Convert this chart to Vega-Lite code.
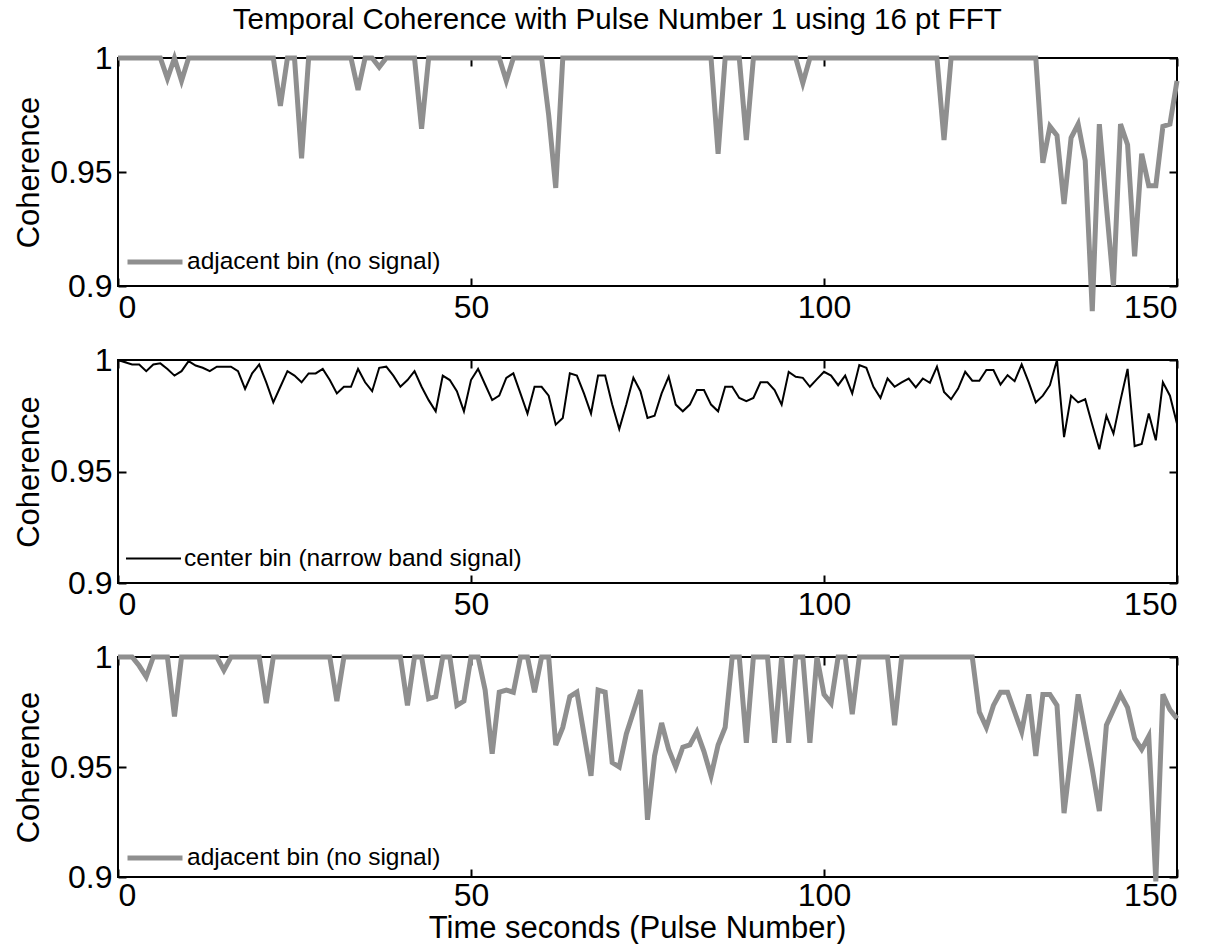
{
  "$schema": "https://vega.github.io/schema/vega-lite/v6.json",
  "background": "white",
  "padding": {"left": 12, "top": 4, "right": 5, "bottom": 0},
  "title": {"text": "Temporal Coherence with Pulse Number 1 using 16 pt FFT", "fontSize": 29.5, "fontWeight": "normal", "font": "Liberation Sans", "color": "black", "anchor": "middle", "offset": 6, "dx": 17},
  "config": {
    "font": "Liberation Sans",
    "view": {"stroke": "black", "strokeWidth": 2},
    "axis": {"grid": false, "domain": false, "labelFont": "Liberation Sans", "titleFont": "Liberation Sans", "labelFontSize": 32, "titleFontSize": 31, "titleFontWeight": "normal", "labelColor": "black", "titleColor": "black", "tickColor": "black", "tickWidth": 2, "tickSize": -8, "labelPadding": 14, "titlePadding": 4},
    "legend": {"labelFont": "Liberation Sans", "labelFontSize": 24.5, "labelColor": "black", "labelLimit": 600, "symbolType": "stroke", "symbolSize": 3025, "labelOffset": 2, "padding": 0}
  },
  "datasets": {
    "adj1": [
      {"pulse":0,"coherence":1},{"pulse":1,"coherence":1},{"pulse":2,"coherence":1},{"pulse":3,"coherence":1},{"pulse":4,"coherence":1},{"pulse":5,"coherence":1},{"pulse":6,"coherence":1},{"pulse":7,"coherence":0.991},{"pulse":8,"coherence":1},{"pulse":9,"coherence":0.99},
      {"pulse":10,"coherence":1},{"pulse":11,"coherence":1},{"pulse":12,"coherence":1},{"pulse":13,"coherence":1},{"pulse":14,"coherence":1},{"pulse":15,"coherence":1},{"pulse":16,"coherence":1},{"pulse":17,"coherence":1},{"pulse":18,"coherence":1},{"pulse":19,"coherence":1},
      {"pulse":20,"coherence":1},{"pulse":21,"coherence":1},{"pulse":22,"coherence":1},{"pulse":23,"coherence":0.979},{"pulse":24,"coherence":1},{"pulse":25,"coherence":1},{"pulse":26,"coherence":0.956},{"pulse":27,"coherence":1},{"pulse":28,"coherence":1},{"pulse":29,"coherence":1},
      {"pulse":30,"coherence":1},{"pulse":31,"coherence":1},{"pulse":32,"coherence":1},{"pulse":33,"coherence":1},{"pulse":34,"coherence":0.986},{"pulse":35,"coherence":1},{"pulse":36,"coherence":1},{"pulse":37,"coherence":0.996},{"pulse":38,"coherence":1},{"pulse":39,"coherence":1},
      {"pulse":40,"coherence":1},{"pulse":41,"coherence":1},{"pulse":42,"coherence":1},{"pulse":43,"coherence":0.969},{"pulse":44,"coherence":1},{"pulse":45,"coherence":1},{"pulse":46,"coherence":1},{"pulse":47,"coherence":1},{"pulse":48,"coherence":1},{"pulse":49,"coherence":1},
      {"pulse":50,"coherence":1},{"pulse":51,"coherence":1},{"pulse":52,"coherence":1},{"pulse":53,"coherence":1},{"pulse":54,"coherence":1},{"pulse":55,"coherence":0.99},{"pulse":56,"coherence":1},{"pulse":57,"coherence":1},{"pulse":58,"coherence":1},{"pulse":59,"coherence":1},
      {"pulse":60,"coherence":1},{"pulse":61,"coherence":0.975},{"pulse":62,"coherence":0.943},{"pulse":63,"coherence":1},{"pulse":64,"coherence":1},{"pulse":65,"coherence":1},{"pulse":66,"coherence":1},{"pulse":67,"coherence":1},{"pulse":68,"coherence":1},{"pulse":69,"coherence":1},
      {"pulse":70,"coherence":1},{"pulse":71,"coherence":1},{"pulse":72,"coherence":1},{"pulse":73,"coherence":1},{"pulse":74,"coherence":1},{"pulse":75,"coherence":1},{"pulse":76,"coherence":1},{"pulse":77,"coherence":1},{"pulse":78,"coherence":1},{"pulse":79,"coherence":1},
      {"pulse":80,"coherence":1},{"pulse":81,"coherence":1},{"pulse":82,"coherence":1},{"pulse":83,"coherence":1},{"pulse":84,"coherence":1},{"pulse":85,"coherence":0.958},{"pulse":86,"coherence":1},{"pulse":87,"coherence":1},{"pulse":88,"coherence":1},{"pulse":89,"coherence":0.964},
      {"pulse":90,"coherence":1},{"pulse":91,"coherence":1},{"pulse":92,"coherence":1},{"pulse":93,"coherence":1},{"pulse":94,"coherence":1},{"pulse":95,"coherence":1},{"pulse":96,"coherence":1},{"pulse":97,"coherence":0.989},{"pulse":98,"coherence":1},{"pulse":99,"coherence":1},
      {"pulse":100,"coherence":1},{"pulse":101,"coherence":1},{"pulse":102,"coherence":1},{"pulse":103,"coherence":1},{"pulse":104,"coherence":1},{"pulse":105,"coherence":1},{"pulse":106,"coherence":1},{"pulse":107,"coherence":1},{"pulse":108,"coherence":1},{"pulse":109,"coherence":1},
      {"pulse":110,"coherence":1},{"pulse":111,"coherence":1},{"pulse":112,"coherence":1},{"pulse":113,"coherence":1},{"pulse":114,"coherence":1},{"pulse":115,"coherence":1},{"pulse":116,"coherence":1},{"pulse":117,"coherence":0.964},{"pulse":118,"coherence":1},{"pulse":119,"coherence":1},
      {"pulse":120,"coherence":1},{"pulse":121,"coherence":1},{"pulse":122,"coherence":1},{"pulse":123,"coherence":1},{"pulse":124,"coherence":1},{"pulse":125,"coherence":1},{"pulse":126,"coherence":1},{"pulse":127,"coherence":1},{"pulse":128,"coherence":1},{"pulse":129,"coherence":1},
      {"pulse":130,"coherence":1},{"pulse":131,"coherence":0.954},{"pulse":132,"coherence":0.97},{"pulse":133,"coherence":0.966},{"pulse":134,"coherence":0.936},{"pulse":135,"coherence":0.965},{"pulse":136,"coherence":0.971},{"pulse":137,"coherence":0.955},{"pulse":138,"coherence":0.889},{"pulse":139,"coherence":0.971},
      {"pulse":140,"coherence":0.935},{"pulse":141,"coherence":0.9},{"pulse":142,"coherence":0.971},{"pulse":143,"coherence":0.962},{"pulse":144,"coherence":0.913},{"pulse":145,"coherence":0.958},{"pulse":146,"coherence":0.944},{"pulse":147,"coherence":0.944},{"pulse":148,"coherence":0.97},{"pulse":149,"coherence":0.971},
      {"pulse":150,"coherence":0.99}
    ],
    "center": [
      {"pulse":0,"coherence":1},{"pulse":1,"coherence":0.999},{"pulse":2,"coherence":0.998},{"pulse":3,"coherence":0.998},{"pulse":4,"coherence":0.995},{"pulse":5,"coherence":0.998},{"pulse":6,"coherence":0.9985},{"pulse":7,"coherence":0.996},{"pulse":8,"coherence":0.993},{"pulse":9,"coherence":0.995},
      {"pulse":10,"coherence":0.9995},{"pulse":11,"coherence":0.9975},{"pulse":12,"coherence":0.9965},{"pulse":13,"coherence":0.995},{"pulse":14,"coherence":0.997},{"pulse":15,"coherence":0.997},{"pulse":16,"coherence":0.997},{"pulse":17,"coherence":0.995},{"pulse":18,"coherence":0.987},{"pulse":19,"coherence":0.994},
      {"pulse":20,"coherence":0.998},{"pulse":21,"coherence":0.99},{"pulse":22,"coherence":0.981},{"pulse":23,"coherence":0.988},{"pulse":24,"coherence":0.995},{"pulse":25,"coherence":0.993},{"pulse":26,"coherence":0.99},{"pulse":27,"coherence":0.994},{"pulse":28,"coherence":0.994},{"pulse":29,"coherence":0.996},
      {"pulse":30,"coherence":0.991},{"pulse":31,"coherence":0.985},{"pulse":32,"coherence":0.988},{"pulse":33,"coherence":0.988},{"pulse":34,"coherence":0.996},{"pulse":35,"coherence":0.99},{"pulse":36,"coherence":0.986},{"pulse":37,"coherence":0.9965},{"pulse":38,"coherence":0.997},{"pulse":39,"coherence":0.993},
      {"pulse":40,"coherence":0.988},{"pulse":41,"coherence":0.991},{"pulse":42,"coherence":0.995},{"pulse":43,"coherence":0.988},{"pulse":44,"coherence":0.982},{"pulse":45,"coherence":0.977},{"pulse":46,"coherence":0.993},{"pulse":47,"coherence":0.991},{"pulse":48,"coherence":0.986},{"pulse":49,"coherence":0.977},
      {"pulse":50,"coherence":0.991},{"pulse":51,"coherence":0.996},{"pulse":52,"coherence":0.989},{"pulse":53,"coherence":0.982},{"pulse":54,"coherence":0.984},{"pulse":55,"coherence":0.992},{"pulse":56,"coherence":0.994},{"pulse":57,"coherence":0.985},{"pulse":58,"coherence":0.976},{"pulse":59,"coherence":0.988},
      {"pulse":60,"coherence":0.988},{"pulse":61,"coherence":0.984},{"pulse":62,"coherence":0.971},{"pulse":63,"coherence":0.974},{"pulse":64,"coherence":0.994},{"pulse":65,"coherence":0.993},{"pulse":66,"coherence":0.985},{"pulse":67,"coherence":0.976},{"pulse":68,"coherence":0.993},{"pulse":69,"coherence":0.993},
      {"pulse":70,"coherence":0.98},{"pulse":71,"coherence":0.969},{"pulse":72,"coherence":0.98},{"pulse":73,"coherence":0.992},{"pulse":74,"coherence":0.986},{"pulse":75,"coherence":0.974},{"pulse":76,"coherence":0.975},{"pulse":77,"coherence":0.985},{"pulse":78,"coherence":0.9925},{"pulse":79,"coherence":0.98},
      {"pulse":80,"coherence":0.977},{"pulse":81,"coherence":0.98},{"pulse":82,"coherence":0.9865},{"pulse":83,"coherence":0.9865},{"pulse":84,"coherence":0.98},{"pulse":85,"coherence":0.977},{"pulse":86,"coherence":0.988},{"pulse":87,"coherence":0.988},{"pulse":88,"coherence":0.983},{"pulse":89,"coherence":0.9815},
      {"pulse":90,"coherence":0.983},{"pulse":91,"coherence":0.99},{"pulse":92,"coherence":0.99},{"pulse":93,"coherence":0.9865},{"pulse":94,"coherence":0.98},{"pulse":95,"coherence":0.9947},{"pulse":96,"coherence":0.9925},{"pulse":97,"coherence":0.992},{"pulse":98,"coherence":0.988},{"pulse":99,"coherence":0.9914},
      {"pulse":100,"coherence":0.9947},{"pulse":101,"coherence":0.993},{"pulse":102,"coherence":0.9887},{"pulse":103,"coherence":0.993},{"pulse":104,"coherence":0.985},{"pulse":105,"coherence":0.9977},{"pulse":106,"coherence":0.9965},{"pulse":107,"coherence":0.988},{"pulse":108,"coherence":0.983},{"pulse":109,"coherence":0.9917},
      {"pulse":110,"coherence":0.988},{"pulse":111,"coherence":0.99},{"pulse":112,"coherence":0.9917},{"pulse":113,"coherence":0.9877},{"pulse":114,"coherence":0.9917},{"pulse":115,"coherence":0.9898},{"pulse":116,"coherence":0.997},{"pulse":117,"coherence":0.9857},{"pulse":118,"coherence":0.9824},{"pulse":119,"coherence":0.9872},
      {"pulse":120,"coherence":0.9947},{"pulse":121,"coherence":0.9907},{"pulse":122,"coherence":0.9907},{"pulse":123,"coherence":0.9955},{"pulse":124,"coherence":0.9955},{"pulse":125,"coherence":0.989},{"pulse":126,"coherence":0.9932},{"pulse":127,"coherence":0.9905},{"pulse":128,"coherence":0.998},{"pulse":129,"coherence":0.99},
      {"pulse":130,"coherence":0.981},{"pulse":131,"coherence":0.984},{"pulse":132,"coherence":0.9887},{"pulse":133,"coherence":1},{"pulse":134,"coherence":0.9654},{"pulse":135,"coherence":0.984},{"pulse":136,"coherence":0.981},{"pulse":137,"coherence":0.9824},{"pulse":138,"coherence":0.971},{"pulse":139,"coherence":0.96},
      {"pulse":140,"coherence":0.975},{"pulse":141,"coherence":0.967},{"pulse":142,"coherence":0.982},{"pulse":143,"coherence":0.996},{"pulse":144,"coherence":0.9614},{"pulse":145,"coherence":0.9624},{"pulse":146,"coherence":0.976},{"pulse":147,"coherence":0.964},{"pulse":148,"coherence":0.99},{"pulse":149,"coherence":0.984},
      {"pulse":150,"coherence":0.9714}
    ],
    "adj3": [
      {"pulse":0,"coherence":1},{"pulse":1,"coherence":1},{"pulse":2,"coherence":1},{"pulse":3,"coherence":0.996},{"pulse":4,"coherence":0.991},{"pulse":5,"coherence":1},{"pulse":6,"coherence":1},{"pulse":7,"coherence":1},{"pulse":8,"coherence":0.973},{"pulse":9,"coherence":1},
      {"pulse":10,"coherence":1},{"pulse":11,"coherence":1},{"pulse":12,"coherence":1},{"pulse":13,"coherence":1},{"pulse":14,"coherence":1},{"pulse":15,"coherence":0.994},{"pulse":16,"coherence":1},{"pulse":17,"coherence":1},{"pulse":18,"coherence":1},{"pulse":19,"coherence":1},
      {"pulse":20,"coherence":1},{"pulse":21,"coherence":0.979},{"pulse":22,"coherence":1},{"pulse":23,"coherence":1},{"pulse":24,"coherence":1},{"pulse":25,"coherence":1},{"pulse":26,"coherence":1},{"pulse":27,"coherence":1},{"pulse":28,"coherence":1},{"pulse":29,"coherence":1},
      {"pulse":30,"coherence":1},{"pulse":31,"coherence":0.98},{"pulse":32,"coherence":1},{"pulse":33,"coherence":1},{"pulse":34,"coherence":1},{"pulse":35,"coherence":1},{"pulse":36,"coherence":1},{"pulse":37,"coherence":1},{"pulse":38,"coherence":1},{"pulse":39,"coherence":1},
      {"pulse":40,"coherence":1},{"pulse":41,"coherence":0.978},{"pulse":42,"coherence":1},{"pulse":43,"coherence":1},{"pulse":44,"coherence":0.981},{"pulse":45,"coherence":0.982},{"pulse":46,"coherence":1},{"pulse":47,"coherence":1},{"pulse":48,"coherence":0.978},{"pulse":49,"coherence":0.98},
      {"pulse":50,"coherence":1},{"pulse":51,"coherence":1},{"pulse":52,"coherence":0.985},{"pulse":53,"coherence":0.956},{"pulse":54,"coherence":0.984},{"pulse":55,"coherence":0.985},{"pulse":56,"coherence":0.984},{"pulse":57,"coherence":1},{"pulse":58,"coherence":1},{"pulse":59,"coherence":0.984},
      {"pulse":60,"coherence":1},{"pulse":61,"coherence":1},{"pulse":62,"coherence":0.96},{"pulse":63,"coherence":0.968},{"pulse":64,"coherence":0.982},{"pulse":65,"coherence":0.984},{"pulse":66,"coherence":0.965},{"pulse":67,"coherence":0.946},{"pulse":68,"coherence":0.985},{"pulse":69,"coherence":0.984},
      {"pulse":70,"coherence":0.952},{"pulse":71,"coherence":0.95},{"pulse":72,"coherence":0.965},{"pulse":73,"coherence":0.975},{"pulse":74,"coherence":0.985},{"pulse":75,"coherence":0.926},{"pulse":76,"coherence":0.955},{"pulse":77,"coherence":0.97},{"pulse":78,"coherence":0.958},{"pulse":79,"coherence":0.95},
      {"pulse":80,"coherence":0.959},{"pulse":81,"coherence":0.96},{"pulse":82,"coherence":0.966},{"pulse":83,"coherence":0.957},{"pulse":84,"coherence":0.946},{"pulse":85,"coherence":0.96},{"pulse":86,"coherence":0.968},{"pulse":87,"coherence":1},{"pulse":88,"coherence":1},{"pulse":89,"coherence":0.961},
      {"pulse":90,"coherence":1},{"pulse":91,"coherence":1},{"pulse":92,"coherence":1},{"pulse":93,"coherence":0.961},{"pulse":94,"coherence":1},{"pulse":95,"coherence":0.961},{"pulse":96,"coherence":1},{"pulse":97,"coherence":1},{"pulse":98,"coherence":0.961},{"pulse":99,"coherence":1},
      {"pulse":100,"coherence":0.983},{"pulse":101,"coherence":0.979},{"pulse":102,"coherence":1},{"pulse":103,"coherence":1},{"pulse":104,"coherence":0.974},{"pulse":105,"coherence":1},{"pulse":106,"coherence":1},{"pulse":107,"coherence":1},{"pulse":108,"coherence":1},{"pulse":109,"coherence":1},
      {"pulse":110,"coherence":0.969},{"pulse":111,"coherence":1},{"pulse":112,"coherence":1},{"pulse":113,"coherence":1},{"pulse":114,"coherence":1},{"pulse":115,"coherence":1},{"pulse":116,"coherence":1},{"pulse":117,"coherence":1},{"pulse":118,"coherence":1},{"pulse":119,"coherence":1},
      {"pulse":120,"coherence":1},{"pulse":121,"coherence":1},{"pulse":122,"coherence":0.975},{"pulse":123,"coherence":0.968},{"pulse":124,"coherence":0.978},{"pulse":125,"coherence":0.984},{"pulse":126,"coherence":0.984},{"pulse":127,"coherence":0.975},{"pulse":128,"coherence":0.966},{"pulse":129,"coherence":0.983},
      {"pulse":130,"coherence":0.955},{"pulse":131,"coherence":0.983},{"pulse":132,"coherence":0.983},{"pulse":133,"coherence":0.978},{"pulse":134,"coherence":0.929},{"pulse":135,"coherence":0.956},{"pulse":136,"coherence":0.983},{"pulse":137,"coherence":0.966},{"pulse":138,"coherence":0.949},{"pulse":139,"coherence":0.93},
      {"pulse":140,"coherence":0.969},{"pulse":141,"coherence":0.976},{"pulse":142,"coherence":0.983},{"pulse":143,"coherence":0.977},{"pulse":144,"coherence":0.963},{"pulse":145,"coherence":0.958},{"pulse":146,"coherence":0.964},{"pulse":147,"coherence":0.898},{"pulse":148,"coherence":0.983},{"pulse":149,"coherence":0.976},
      {"pulse":150,"coherence":0.972}
    ]
  },
  "spacing": 74,
  "bounds": "flush",
  "resolve": {"scale": {"color": "independent"}, "legend": {"color": "independent"}},
  "vconcat": [
    {
      "width": 1059, "height": 228,
      "data": {"name": "adj1"},
      "layer": [
        {"mark": {"type": "line", "strokeWidth": 5, "strokeJoin": "miter"},
         "encoding": {
           "x": {"field": "pulse", "type": "quantitative", "scale": {"domain": [0, 150], "nice": false}, "axis": {"orient": "bottom", "values": [0, 50, 100, 150], "title": null}},
           "y": {"field": "coherence", "type": "quantitative", "scale": {"domain": [0.9, 1], "nice": false, "zero": false}, "axis": {"orient": "left", "values": [0.9, 0.95, 1], "format": "~g", "title": "Coherence"}},
           "color": {"datum": "adjacent bin (no signal)", "type": "nominal", "scale": {"range": ["#8f8f8f"]}, "legend": {"orient": "none", "legendX": 7, "legendY": 174, "title": null, "symbolStrokeWidth": 5}}
         }},
        {"mark": {"type": "line", "opacity": 0},
         "encoding": {
           "x": {"field": "pulse", "type": "quantitative", "scale": {"domain": [0, 150], "nice": false}, "axis": {"orient": "top", "values": [0, 50, 100, 150], "labels": false, "title": null}},
           "y": {"field": "coherence", "type": "quantitative", "scale": {"domain": [0.9, 1], "nice": false, "zero": false}, "axis": {"orient": "right", "values": [0.9, 0.95, 1], "labels": false, "title": null}}
         }}
      ],
      "resolve": {"axis": {"x": "independent", "y": "independent"}}
    },
    {
      "width": 1059, "height": 223,
      "data": {"name": "center"},
      "layer": [
        {"mark": {"type": "line", "strokeWidth": 2},
         "encoding": {
           "x": {"field": "pulse", "type": "quantitative", "scale": {"domain": [0, 150], "nice": false}, "axis": {"orient": "bottom", "values": [0, 50, 100, 150], "title": null}},
           "y": {"field": "coherence", "type": "quantitative", "scale": {"domain": [0.9, 1], "nice": false, "zero": false}, "axis": {"orient": "left", "values": [0.9, 0.95, 1], "format": "~g", "title": "Coherence"}},
           "color": {"datum": "center bin (narrow band signal)", "type": "nominal", "scale": {"range": ["black"]}, "legend": {"orient": "none", "legendX": 7, "legendY": 170, "title": null, "symbolStrokeWidth": 2}}
         }},
        {"mark": {"type": "line", "opacity": 0},
         "encoding": {
           "x": {"field": "pulse", "type": "quantitative", "scale": {"domain": [0, 150], "nice": false}, "axis": {"orient": "top", "values": [0, 50, 100, 150], "labels": false, "title": null}},
           "y": {"field": "coherence", "type": "quantitative", "scale": {"domain": [0.9, 1], "nice": false, "zero": false}, "axis": {"orient": "right", "values": [0.9, 0.95, 1], "labels": false, "title": null}}
         }}
      ],
      "resolve": {"axis": {"x": "independent", "y": "independent"}}
    },
    {
      "width": 1059, "height": 220,
      "data": {"name": "adj3"},
      "layer": [
        {"mark": {"type": "line", "strokeWidth": 5, "strokeJoin": "miter"},
         "encoding": {
           "x": {"field": "pulse", "type": "quantitative", "scale": {"domain": [0, 150], "nice": false}, "axis": {"orient": "bottom", "values": [0, 50, 100, 150], "title": "Time seconds (Pulse Number)", "titleFontSize": 31, "titlePadding": 2, "labelPadding": 11, "titleX": 519}},
           "y": {"field": "coherence", "type": "quantitative", "scale": {"domain": [0.9, 1], "nice": false, "zero": false}, "axis": {"orient": "left", "values": [0.9, 0.95, 1], "format": "~g", "title": "Coherence"}},
           "color": {"datum": "adjacent bin (no signal)", "type": "nominal", "scale": {"range": ["#8f8f8f"]}, "legend": {"orient": "none", "legendX": 7, "legendY": 171, "title": null, "symbolStrokeWidth": 5}}
         }},
        {"mark": {"type": "line", "opacity": 0},
         "encoding": {
           "x": {"field": "pulse", "type": "quantitative", "scale": {"domain": [0, 150], "nice": false}, "axis": {"orient": "top", "values": [0, 50, 100, 150], "labels": false, "title": null}},
           "y": {"field": "coherence", "type": "quantitative", "scale": {"domain": [0.9, 1], "nice": false, "zero": false}, "axis": {"orient": "right", "values": [0.9, 0.95, 1], "labels": false, "title": null}}
         }}
      ],
      "resolve": {"axis": {"x": "independent", "y": "independent"}}
    }
  ]
}
